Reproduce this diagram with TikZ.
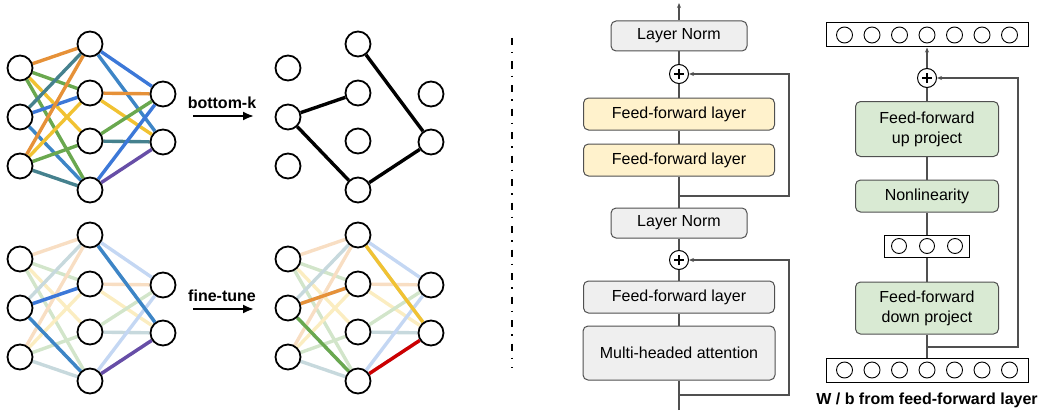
\documentclass[tikz,border=0pt]{standalone}
\usepackage{fontspec}
\setmainfont{Liberation Sans}
\usetikzlibrary{arrows.meta,backgrounds}

\definecolor{ggorange}{HTML}{E69138}
\definecolor{gggreen}{HTML}{6AA84F}
\definecolor{ggyellow}{HTML}{F1C232}
\definecolor{ggblue}{HTML}{3C78D8}
\definecolor{ggsteel}{HTML}{3D85C6}
\definecolor{ggteal}{HTML}{45818E}
\definecolor{ggpurple}{HTML}{674EA7}
\definecolor{ggred}{HTML}{CC0000}
\definecolor{boxgray}{HTML}{EFEFEF}
\definecolor{boxyellow}{HTML}{FFF2CC}
\definecolor{boxgreen}{HTML}{D9EAD3}
\definecolor{linegray}{HTML}{505050}

\begin{document}
\begin{tikzpicture}[x=1pt, y=-1pt,
        neuron/.style={circle, draw, line width=1.8pt, fill=white, minimum size=25pt, inner sep=0pt},
        link/.style={line width=3.4pt},
        block/.style={rectangle, rounded corners=5pt, draw=linegray, line width=1pt, align=center, minimum height=32pt, inner sep=2pt, font=\fontsize{16}{20}\selectfont},
        vec/.style={rectangle, draw=black, line width=1pt, minimum height=24pt, inner sep=0pt},
        unit/.style={circle, draw=black, line width=0.9pt, minimum size=16pt, inner sep=0pt},
        adder/.style={circle, draw=black, line width=1pt, fill=white, minimum size=19pt, inner sep=0pt,
            path picture={\draw[line width=1.3pt] ([xshift=-5pt]path picture bounding box.center) -- ([xshift=5pt]path picture bounding box.center)
                ([yshift=-5pt]path picture bounding box.center) -- ([yshift=5pt]path picture bounding box.center);}},
        flow/.style={draw=linegray, line width=1.3pt},
        tip/.style={-{Stealth[length=5pt,width=4pt]}},
        lbl/.style={font=\bfseries\fontsize{16}{19}\selectfont}
    ]
    \useasboundingbox (0,0) rectangle (1043,412);

    % Define networks
    \foreach \net/\dx/\dy in {a/0/0, b/268/0, c/0/191, d/268/191} {
        \foreach \k/\y in {1/68, 2/117, 3/166}
            \node[neuron] (\net i\k) at (20+\dx, \y+\dy) {};
        \foreach \k/\y in {1/44, 2/93, 3/141, 4/190}
            \node[neuron] (\net h\k) at (90+\dx, \y+\dy) {};
        \foreach \k/\y in {1/94, 2/142}
            \node[neuron] (\net o\k) at (163+\dx, \y+\dy) {};
    }

    % Define connections
    \begin{scope}[on background layer]
        \foreach \u/\v/\c in {i1/h1/ggorange, i1/h2/gggreen, i1/h3/ggyellow, i1/h4/gggreen,
                i2/h1/ggteal, i2/h2/ggblue, i2/h4/ggsteel,
                i3/h1/ggorange, i3/h2/ggyellow, i3/h3/gggreen, i3/h4/ggteal,
                h1/o1/ggblue, h1/o2/ggsteel, h2/o1/ggorange, h2/o2/ggyellow,
                h3/o1/gggreen, h3/o2/ggteal, h4/o1/ggblue, h4/o2/ggpurple} {
            \draw[link, draw=\c] (a\u) -- (a\v);
            \draw[link, draw=\c!30] (c\u) -- (c\v);
            \draw[link, draw=\c!30] (d\u) -- (d\v);
        }
        \foreach \u/\v in {i2/h2, i2/h4, h4/o2, h1/o2}
            \draw[link, draw=black] (b\u) -- (b\v);
        \draw[link, draw=ggblue] (ci2) -- (ch2);
        \draw[link, draw=ggsteel] (ci2) -- (ch4);
        \draw[link, draw=ggsteel] (ch1) -- (co2);
        \draw[link, draw=ggpurple] (ch4) -- (co2);
        \draw[link, draw=ggorange] (di2) -- (dh2);
        \draw[link, draw=gggreen] (di2) -- (dh4);
        \draw[link, draw=ggyellow] (dh1) -- (do2);
        \draw[link, draw=ggred] (dh4) -- (do2);
    \end{scope}

    % Arrows between networks
    \node[lbl] (topk) at (222,103) {bottom-k};
    \coordinate (topkS) at (193,116);
    \coordinate (topkE) at (254,116);
    \draw[line width=2pt, -{Latex[length=11pt,width=9pt]}] (topkS) -- (topkE);
    \node[lbl] (tune) at (222,296) {fine-tune};
    \coordinate (tuneS) at (193,309);
    \coordinate (tuneE) at (254,309);
    \draw[line width=2pt, -{Latex[length=11pt,width=9pt]}] (tuneS) -- (tuneE);

    % Separator
    \coordinate (sepT) at (512,38);
    \coordinate (sepB) at (512,368);
    \draw[line width=1.8pt, dash pattern=on 7pt off 7pt on 1.5pt off 8pt] (sepT) -- (sepB);

    % Transformer block
    \node[block, fill=boxgray, minimum width=136pt, minimum height=30pt] (ln2) at (679,36) {Layer Norm};
    \node[adder] (add2) at (679,74) {};
    \node[block, fill=boxyellow, minimum width=191pt] (ff2) at (679,114) {Feed-forward layer};
    \node[block, fill=boxyellow, minimum width=191pt] (ff1) at (679,160) {Feed-forward layer};
    \node[block, fill=boxgray, minimum width=136pt, minimum height=30pt] (ln1) at (679,223) {Layer Norm};
    \node[adder] (add1) at (679,260) {};
    \node[block, fill=boxgray, minimum width=191pt] (ffg) at (679,297) {Feed-forward layer};
    \node[block, fill=boxgray, minimum width=192pt, minimum height=54pt] (mha) at (679,353) {Multi-headed attention};
    \coordinate (inp) at (679,410);
    \coordinate (out) at (679,3);
    \coordinate (res1) at (679,395);
    \coordinate (res2) at (679,196);

    \draw[flow] (inp) -- (mha);
    \draw[flow] (mha) -- (ffg);
    \draw[flow] (ffg) -- (add1);
    \draw[flow] (add1) -- (ln1);
    \draw[flow] (ln1) -- (ff1);
    \draw[flow] (ff1) -- (ff2);
    \draw[flow] (ff2) -- (add2);
    \draw[flow] (add2) -- (ln2);
    \draw[flow, tip] (ln2) -- (out);
    \draw[flow, tip] (res1) -- ++(110,0) |- (add1.east);
    \draw[flow, tip] (res2) -- ++(110,0) |- (add2.east);

    % Adapter
    \node[vec, minimum width=202pt] (vtop) at (927,35) {};
    \node[vec, minimum width=202pt] (vbot) at (927,370) {};
    \node[vec, minimum width=85pt, minimum height=22pt] (vmid) at (927,246) {};
    \foreach \k in {0,...,6} {
        \node[unit] (vtop\k) at (844.5+27.5*\k, 35) {};
        \node[unit] (vbot\k) at (844.5+27.5*\k, 370) {};
    }
    \foreach \k in {0,1,2}
        \node[unit, minimum size=15pt] (vmid\k) at (899+28*\k, 246) {};
    \node[adder] (addr) at (927,78) {};
    \node[block, fill=boxgreen, minimum width=143pt, minimum height=55pt] (up) at (927,129) {Feed-forward\\up project};
    \node[block, fill=boxgreen, minimum width=143pt] (nonlin) at (927,196) {Nonlinearity};
    \node[block, fill=boxgreen, minimum width=143pt, minimum height=52pt] (down) at (927,308) {Feed-forward\\down project};
    \coordinate (resr) at (927,347);

    \draw[flow] (vbot) -- (down);
    \draw[flow] (down) -- (vmid);
    \draw[flow] (vmid) -- (nonlin);
    \draw[flow] (nonlin) -- (up);
    \draw[flow] (up) -- (addr);
    \draw[flow, tip] (addr) -- (vtop);
    \draw[flow, tip] (resr) -- ++(91,0) |- (addr.east);

    \node[lbl] (cap) at (927,400) {W / b from feed-forward layer};
\end{tikzpicture}
\end{document}
